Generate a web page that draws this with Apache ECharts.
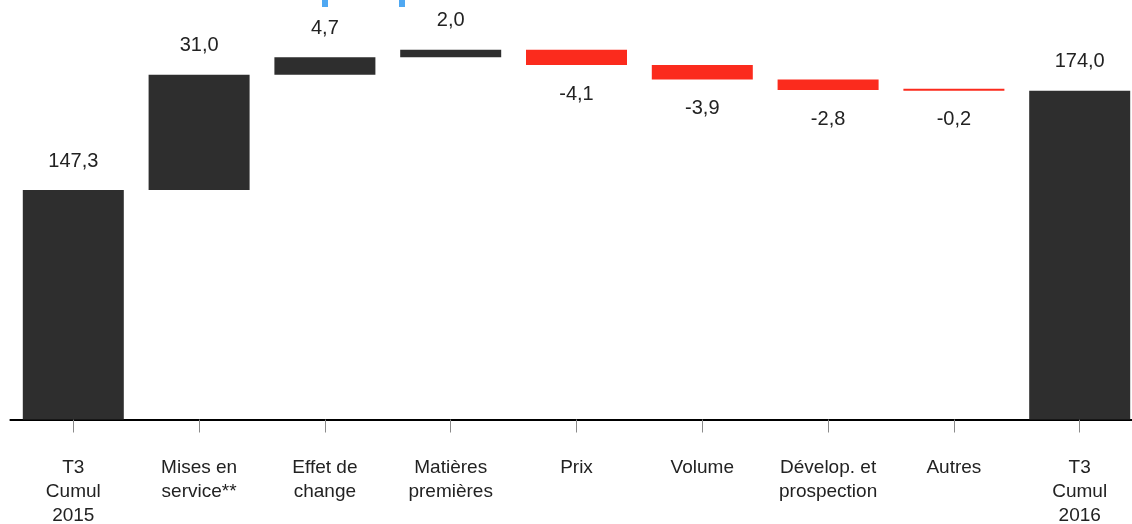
<!DOCTYPE html>
<html>
<head>
<meta charset="utf-8">
<script src="https://cdn.jsdelivr.net/npm/echarts@6/dist/echarts.min.js"></script>
<style>
html,body{margin:0;padding:0;background:#fff;}
#c{width:1132px;height:524px;}
</style>
</head>
<body>
<div id="c"></div>
<script>
const categories = ['T3\nCumul\n2015', 'Mises en\nservice**', 'Effet de\nchange', 'Matières\npremières', 'Prix', 'Volume', 'Dévelop. et\nprospection', 'Autres', 'T3\nCumul\n2016'];
const values = [147.3, 31.0, 4.7, 2.0, -4.1, -3.9, -2.8, -0.2, 174.0];
const isTotal = [true, false, false, false, false, false, false, false, true];

const DARK = '#2e2e2e';
const RED = '#fb2b1d';

const baseData = [];
const barData = [];
let running = 0;
values.forEach((v, i) => {
  if (isTotal[i]) {
    baseData.push(0);
    barData.push({ value: v, itemStyle: { color: DARK }, label: { position: 'top' } });
    running = v;
  } else {
    const start = running;
    const end = running + v;
    baseData.push(Math.min(start, end));
    barData.push({
      value: Math.abs(v),
      raw: v,
      itemStyle: { color: v < 0 ? RED : DARK },
      label: { position: v < 0 ? 'bottom' : 'top' }
    });
    running = end;
  }
});

const chart = echarts.init(document.getElementById('c'), null, { renderer: 'canvas' });
chart.setOption({
  animation: false,
  backgroundColor: '#fff',
  grid: { left: 10.4, width: 1132.2, top: 0, height: 419.5, containLabel: false, outerBoundsMode: 'none' },
  xAxis: {
    type: 'category',
    data: categories,
    boundaryGap: true,
    axisLine: { lineStyle: { color: '#000', width: 2 } },
    axisTick: { show: true, alignWithLabel: true, length: 13, lineStyle: { color: '#8a8a8a', width: 1 } },
    axisLabel: {
      interval: 0,
      margin: 36,
      fontFamily: 'Liberation Sans, Arial, sans-serif',
      fontSize: 19,
      lineHeight: 24,
      color: '#222',
      align: 'center'
    }
  },
  yAxis: {
    type: 'value',
    min: 85.6,
    max: 198.4,
    show: false,
    splitLine: { show: false }
  },
  series: [
    {
      type: 'bar',
      stack: 'wf',
      data: baseData,
      barWidth: 101,
      itemStyle: { color: 'transparent' },
      silent: true
    },
    {
      type: 'bar',
      stack: 'wf',
      data: barData,
      barWidth: 101,
      barMinHeight: 2,
      label: {
        show: true,
        distance: 19,
        fontFamily: 'Liberation Sans, Arial, sans-serif',
        fontSize: 20,
        color: '#222',
        formatter: p => {
          const v = p.data.raw !== undefined ? p.data.raw : p.data.value;
          return v.toFixed(1).replace('.', ',');
        }
      }
    }
  ],
  graphic: [
    { type: 'rect', shape: { x: 322, y: 0, width: 6, height: 7 }, style: { fill: '#4fa8f2' } },
    { type: 'rect', shape: { x: 399, y: 0, width: 6, height: 7 }, style: { fill: '#4fa8f2' } }
  ]
});
</script>
</body>
</html>
